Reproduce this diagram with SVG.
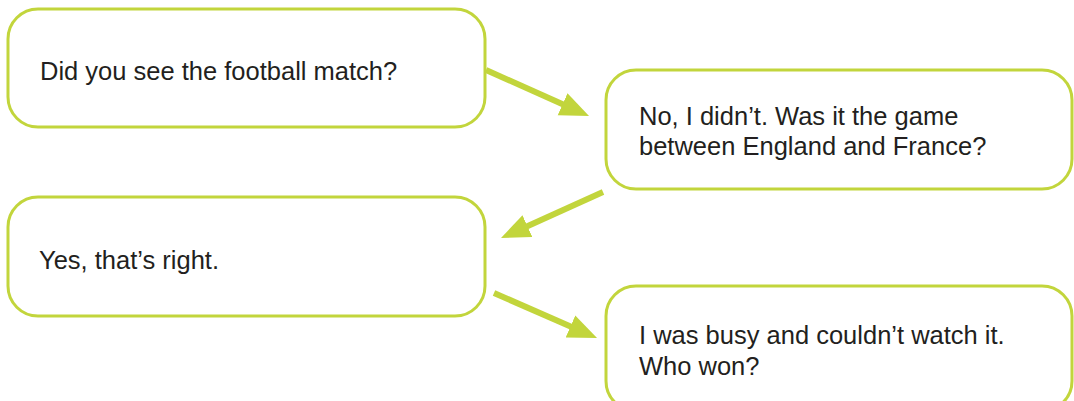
<svg xmlns="http://www.w3.org/2000/svg" width="1074" height="401" viewBox="0 0 1074 401">
<style>
.box{fill:#ffffff;stroke:#c2d53c;stroke-width:3}
.txt{font-family:"Liberation Sans",Arial,sans-serif;font-size:25.5px;fill:#231f20}
.arr{stroke:#c2d53c;stroke-width:6;fill:none}
</style>
<defs>
<marker id="head" markerUnits="userSpaceOnUse" markerWidth="32" markerHeight="26" refX="2" refY="12" orient="auto">
<path d="M0,0 L29,12 L0,24 z" fill="#c2d53c"/>
</marker>
</defs>
<rect width="1074" height="401" fill="#ffffff"/>
<g id="connectors">
<line class="arr" x1="486" y1="70" x2="564.4" y2="105" marker-end="url(#head)"/>
<line class="arr" x1="603" y1="192" x2="525.6" y2="226.9" marker-end="url(#head)"/>
<line class="arr" x1="494" y1="293" x2="572.3" y2="327.2" marker-end="url(#head)"/>
</g>
<g id="node1">
<rect class="box" x="8" y="9" width="477" height="118" rx="30"/>
<text class="txt" x="40" y="80">Did you see the football match?</text>
</g>
<g id="node2">
<rect class="box" x="606" y="70" width="466" height="119" rx="30"/>
<text class="txt" x="639" y="125">No, I didn’t. Was it the game</text>
<text class="txt" x="639" y="155">between England and France?</text>
</g>
<g id="node3">
<rect class="box" x="8" y="197" width="477" height="119" rx="30"/>
<text class="txt" x="39" y="269">Yes, that’s right.</text>
</g>
<g id="node4">
<rect class="box" x="606" y="286" width="466" height="125" rx="30"/>
<text class="txt" x="639" y="344">I was busy and couldn’t watch it.</text>
<text class="txt" x="639" y="375">Who won?</text>
</g>
</svg>
